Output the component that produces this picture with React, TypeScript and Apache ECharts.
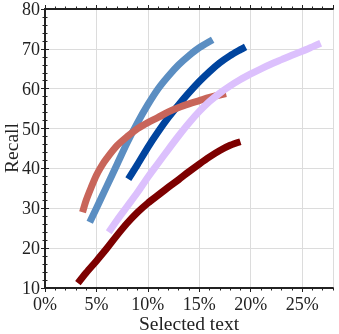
import React, { useEffect, useRef } from "react";
import * as echarts from "echarts";

const xTicks = [0, 5, 10, 15, 20, 25];
const yTicks = [10, 20, 30, 40, 50, 60, 70, 80];

const steelBlue: [number, number][] = [
  [4.35, 26.5], [5, 30], [6, 35.5], [7, 41], [8, 46.5], [9, 51.5], [10, 56],
  [11, 60], [12, 63.2], [13, 66], [14, 68.3], [15, 70.3], [16.3, 72.3],
];
const darkBlue: [number, number][] = [
  [8.1, 37.3], [9, 41], [10, 45.3], [11, 49.2], [12, 52.8], [13, 56], [14, 59],
  [15, 61.8], [16, 64.3], [17, 66.5], [18, 68.3], [19, 69.8], [19.5, 70.5],
];
const salmon: [number, number][] = [
  [3.65, 29], [4, 32], [4.5, 35.3], [5, 38.3], [5.5, 40.6], [6, 42.5], [7, 45.7],
  [8, 48], [9, 50], [10, 51.5], [11, 52.8], [12, 54.2], [13, 55.3], [14, 56.2],
  [15, 57], [16, 57.8], [17.6, 58.8],
];
const lavender: [number, number][] = [
  [6.2, 24], [7, 27], [8, 30.5], [9, 34], [10, 37.8], [11, 41.3], [12, 44.8],
  [13, 48.2], [14, 51.4], [15, 54.3], [16, 56.8], [17, 58.9], [18, 60.7], [19, 62.3],
  [20, 63.7], [21, 65], [22, 66.2], [23, 67.3], [24, 68.4], [25, 69.4], [26, 70.5],
  [26.8, 71.4],
];
const darkRed: [number, number][] = [
  [3.2, 11.2], [4, 13.8], [5, 16.8], [6, 19.9], [7, 23.2], [8, 26.3], [9, 29],
  [10, 31.3], [11, 33.3], [12, 35.3], [13, 37.2], [14, 39.2], [15, 41.1], [16, 42.9],
  [17, 44.5], [18, 45.8], [19, 46.7],
];

const seriesList = [
  { name: "steel", data: steelBlue, color: "#5b8ec2" },
  { name: "darkblue", data: darkBlue, color: "#00449e" },
  { name: "salmon", data: salmon, color: "#c8655a" },
  { name: "lavender", data: lavender, color: "#dcc0fd" },
  { name: "darkred", data: darkRed, color: "#7d0000" },
];

const FONT = "'Liberation Serif', 'DejaVu Serif', serif";
const DARK = "#222";

export default function App() {
  const ref = useRef<HTMLDivElement>(null);
  useEffect(() => {
    if (!ref.current) return;
    const chart = echarts.init(ref.current, undefined, { renderer: "svg" });
    const xMin = xTicks[0];
    const xMax = 28;
    const yMin = yTicks[0];
    const yMax = yTicks[yTicks.length - 1];
    const axisLine = { show: true, lineStyle: { color: DARK, width: 1.8 } };
    const majorX = (pos: "bottom" | "top", labels: boolean) => ({
      type: "value",
      position: pos,
      min: xMin,
      max: xMax,
      interval: 5,
      axisLine,
      axisTick: { show: true, inside: false, length: 4, lineStyle: { color: DARK, width: 1 } },
      axisLabel: labels
        ? {
            show: true,
            formatter: (v: number) => `${v}%`,
            fontFamily: FONT,
            fontSize: 18,
            lineHeight: 15,
            color: DARK,
            margin: 8,
            showMaxLabel: false,
          }
        : { show: false },
      splitLine: labels ? { show: true, lineStyle: { color: "#dcdcdc", width: 1 } } : { show: false },
    });
    const minorX = (pos: "bottom" | "top") => ({
      type: "value",
      position: pos,
      min: xMin,
      max: xMax,
      interval: 1,
      axisLine: { show: false },
      axisTick: { show: true, inside: false, length: 2.5, lineStyle: { color: DARK, width: 1 } },
      axisLabel: { show: false },
      splitLine: { show: false },
    });
    const majorY = (pos: "left" | "right", labels: boolean) => ({
      type: "value",
      position: pos,
      min: yMin,
      max: yMax,
      interval: 10,
      axisLine,
      axisTick: { show: true, inside: false, length: 4, lineStyle: { color: DARK, width: 1 } },
      axisLabel: labels
        ? { show: true, fontFamily: FONT, fontSize: 18, color: DARK, margin: 5 }
        : { show: false },
      splitLine: labels ? { show: true, lineStyle: { color: "#dcdcdc", width: 1 } } : { show: false },
    });
    const minorY = (pos: "left" | "right") => ({
      type: "value",
      position: pos,
      min: yMin,
      max: yMax,
      interval: 2,
      axisLine: { show: false },
      axisTick: { show: true, inside: false, length: 2.5, lineStyle: { color: DARK, width: 1 } },
      axisLabel: { show: false },
      splitLine: { show: false },
    });
    chart.setOption({
      animation: false,
      grid: { left: 45, right: 6, top: 8, bottom: 46, containLabel: false },
      xAxis: [majorX("bottom", true), majorX("top", false), minorX("bottom"), minorX("top")],
      yAxis: [majorY("left", true), majorY("right", false), minorY("left"), minorY("right")],
      graphic: [
        {
          type: "text",
          x: 189,
          y: 323,
          style: {
            text: "Selected text",
            font: `19.5px ${FONT}`,
            fill: DARK,
            lineHeight: 16,
            textAlign: "center",
            textVerticalAlign: "middle",
          },
        },
        {
          type: "text",
          x: 11,
          y: 148,
          rotation: Math.PI / 2,
          style: {
            text: "Recall",
            font: `19.5px ${FONT}`,
            fill: DARK,
            textAlign: "center",
            textVerticalAlign: "middle",
          },
        },
      ],
      series: seriesList.map((s) => ({
        name: s.name,
        type: "line",
        xAxisIndex: 0,
        yAxisIndex: 0,
        data: s.data,
        showSymbol: false,
        smooth: 0.3,
        lineStyle: { color: s.color, width: 7, cap: "butt", join: "round" },
        itemStyle: { color: s.color },
      })),
    });
    return () => chart.dispose();
  }, []);
  return (
    <div
      ref={ref}
      style={{ position: "fixed", left: 0, top: 0, width: 339, height: 334 }}
    />
  );
}
